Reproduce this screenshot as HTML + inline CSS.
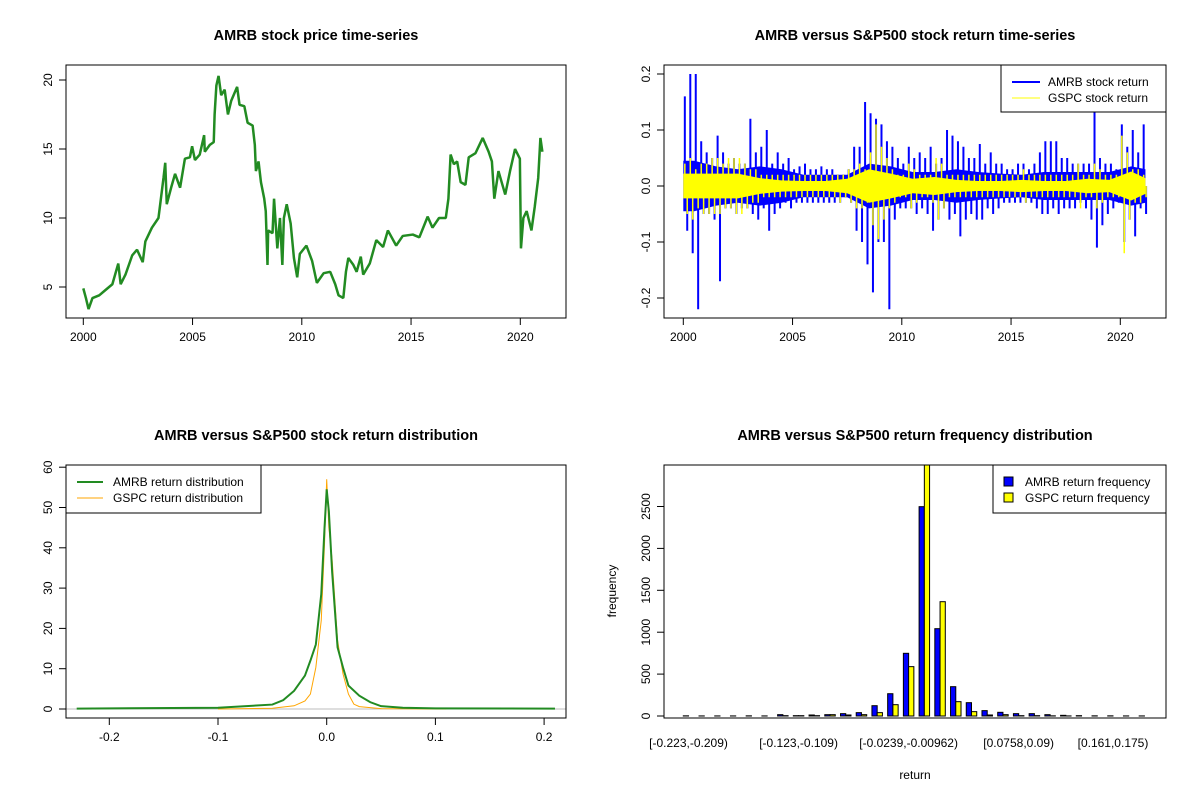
<!DOCTYPE html>
<html><head><meta charset="utf-8">
<style>
html,body{margin:0;padding:0;background:#fff;}
svg{display:block;font-family:"Liberation Sans",Arial,sans-serif;}
.t{font-weight:bold;font-size:14.5px;text-anchor:middle;}
.k{font-size:12px;text-anchor:middle;}
.ax{stroke:#000;stroke-width:1;fill:none;}
</style></head>
<body>
<svg id="chart" width="1200" height="800" viewBox="0 0 1200 800">
<defs>
<clipPath id="c1"><rect x="66" y="65" width="500" height="253"/></clipPath>
<clipPath id="c2"><rect x="664" y="65" width="502" height="253"/></clipPath>
<clipPath id="c3"><rect x="66" y="465" width="500" height="253"/></clipPath>
<clipPath id="c4"><rect x="664" y="465" width="502" height="253"/></clipPath>
</defs>
<rect width="1200" height="800" fill="#fff"/>
<text class="t" x="316" y="40">AMRB stock price time-series</text>
<text class="t" x="915" y="40">AMRB versus S&amp;P500 stock return time-series</text>
<text class="t" x="316" y="440">AMRB versus S&amp;P500 stock return distribution</text>
<text class="t" x="915" y="440">AMRB versus S&amp;P500 return frequency distribution</text>
<g id="g1"></g>
<g id="g2"></g>
<g id="g3"></g>
<g id="g4"></g>
<rect class="ax" x="66" y="65" width="500" height="253"/>
<rect class="ax" x="664" y="65" width="502" height="253"/>
<rect class="ax" x="66" y="465" width="500" height="253"/>
<rect class="ax" x="664" y="465" width="502" height="253"/>
<g>
<rect x="1001" y="65" width="165" height="47" fill="#fff" stroke="#000"/>
<line x1="1012" y1="82" x2="1040" y2="82" stroke="#0000ff" stroke-width="2"/>
<text x="1048" y="86" font-size="12">AMRB stock return</text>
<line x1="1012" y1="98" x2="1040" y2="98" stroke="#ffff00" stroke-width="1"/>
<text x="1048" y="102" font-size="12">GSPC stock return</text>
</g>
<g>
<rect x="66" y="465" width="195" height="48" fill="#fff" stroke="#000"/>
<line x1="77" y1="482" x2="103" y2="482" stroke="#228B22" stroke-width="2"/>
<text x="113" y="486" font-size="12">AMRB return distribution</text>
<line x1="77" y1="498" x2="103" y2="498" stroke="#FFA500" stroke-width="1"/>
<text x="113" y="502" font-size="12">GSPC return distribution</text>
</g>
<g>
<rect x="993" y="465" width="173" height="48" fill="#fff" stroke="#000"/>
<rect x="1004" y="477" width="9" height="9" fill="#0000ff" stroke="#000"/>
<text x="1025" y="486" font-size="12">AMRB return frequency</text>
<rect x="1004" y="493" width="9" height="9" fill="#ffff00" stroke="#000"/>
<text x="1025" y="502" font-size="12">GSPC return frequency</text>
</g>
<text class="k" x="915" y="779">return</text>
<text class="k" transform="translate(616,591) rotate(-90)">frequency</text>
</svg>
<script>
// ---- Price series ----
const priceYears = [0,.12,.24,.42,.73,1.03,1.33,1.60,1.71,1.93,2.24,2.46,2.72,2.84,3.14,3.44,3.52,3.67,3.75,3.82,4.02,4.20,4.43,4.65,4.88,4.98,5.11,5.33,5.53,5.56,5.79,5.97,6.01,6.09,6.19,6.31,6.47,6.62,6.77,7.04,7.15,7.37,7.52,7.75,7.85,7.90,8.02,8.13,8.28,8.35,8.43,8.46,8.66,8.73,8.88,9.00,9.11,9.18,9.31,9.49,9.64,9.79,9.91,10.21,10.47,10.69,11.00,11.30,11.53,11.68,11.90,12.02,12.13,12.36,12.51,12.70,12.81,13.11,13.41,13.72,13.94,14.32,14.62,15.08,15.38,15.76,15.98,16.28,16.59,16.71,16.81,16.96,17.11,17.27,17.49,17.64,17.95,18.28,18.55,18.70,18.81,19.00,19.31,19.53,19.76,19.98,20.03,20.14,20.29,20.51,20.66,20.82,20.92,21.01];
const priceValues = [4.9,4.2,3.4,4.2,4.4,4.8,5.2,6.7,5.2,5.9,7.3,7.7,6.8,8.3,9.3,10.0,11.0,12.9,14.0,11.0,12.2,13.2,12.2,14.3,14.4,15.2,14.2,14.6,16.0,14.8,15.3,15.5,17.5,19.6,20.3,18.9,19.3,17.5,18.5,19.5,18.2,18.1,16.9,16.7,15.3,13.4,14.1,12.6,11.4,10.5,6.6,9.1,8.9,11.4,7.8,10.0,6.6,10.0,11.0,9.6,7.1,5.7,7.4,8.0,6.9,5.3,6.0,6.1,5.2,4.4,4.2,6.1,7.1,6.6,6.1,7.2,5.9,6.7,8.4,7.9,9.1,8.0,8.7,8.8,8.6,10.1,9.3,10.0,10.0,11.4,14.6,13.9,14.1,12.6,12.4,14.4,14.7,15.8,14.8,14.1,11.4,13.4,11.7,13.4,15.0,14.3,7.8,10.0,10.5,9.1,10.8,12.9,15.8,14.8];
const priceYTicks = [5,10,15,20];
const yearTicks = [2000,2005,2010,2015,2020];
// ---- Returns (quarterly high/low extremes) ----
const amrbHi = [.16,.2,.2,.08, .06,.05,.09,.06, .04,.05,.04,.04, .12,.06,.07,.1, .04,.06,.04,.05, .03,.035,.04,.03, .03,.035,.03,.03, .02,.02,.03,.07, .07,.15,.13,.12, .11,.08,.07,.05, .04,.07,.05,.06, .05,.07,.04,.05, .1,.09,.08,.07, .05,.05,.075,.04, .06,.04,.04,.03, .03,.04,.04,.03, .04,.06,.08,.08, .08,.05,.05,.04, .04,.04,.04,.15, .05,.04,.04,.03, .11,.07,.1,.06, .11];
const amrbLo = [-.08,-.12,-.22,-.05, -.05,-.06,-.17,-.04, -.04,-.05,-.04,-.04, -.05,-.06,-.04,-.08, -.05,-.04,-.03,-.04, -.03,-.03,-.03,-.03, -.03,-.03,-.03,-.03, -.03,-.02,-.03,-.08, -.1,-.14,-.19,-.1, -.1,-.22,-.06,-.04, -.04,-.04,-.05,-.04, -.05,-.08,-.06,-.04, -.06,-.05,-.09,-.06, -.05,-.06,-.06,-.04, -.05,-.04,-.03,-.03, -.03,-.03,-.03,-.03, -.04,-.05,-.05,-.04, -.05,-.04,-.04,-.04, -.03,-.04,-.06,-.11, -.07,-.05,-.04,-.03, -.1,-.06,-.09,-.04, -.05];
const gspcHi = [.04,.05,.03,.04, .04,.05,.05,.04, .05,.05,.05,.04, .03,.03,.02,.02, .02,.02,.02,.02, .02,.02,.02,.02, .02,.02,.02,.02, .02,.02,.03,.03, .04,.03,.06,.11, .07,.05,.03,.02, .02,.04,.03,.02, .02,.02,.05,.04, .02,.02,.02,.02, .02,.02,.02,.02, .02,.02,.02,.02, .02,.02,.03,.02, .02,.02,.02,.02, .02,.02,.02,.02, .04,.02,.02,.04, .03,.02,.02,.02, .09,.06,.03,.03, .02];
const gspcLo = [-.05,-.06,-.04,-.05, -.05,-.05,-.05,-.04, -.04,-.05,-.05,-.04, -.03,-.03,-.02,-.02, -.02,-.02,-.02,-.02, -.02,-.02,-.02,-.02, -.02,-.02,-.02,-.02, -.03,-.02,-.03,-.04, -.04,-.03,-.07,-.095, -.06,-.04,-.03,-.02, -.02,-.04,-.03,-.02, -.02,-.03,-.06,-.04, -.02,-.02,-.02,-.02, -.02,-.02,-.02,-.02, -.02,-.02,-.02,-.02, -.02,-.02,-.03,-.02, -.02,-.02,-.02,-.02, -.02,-.02,-.02,-.02, -.04,-.02,-.02,-.04, -.03,-.02,-.02,-.02, -.12,-.06,-.03,-.03, -.02];
// typical (dense core) daily return magnitude per year 2000..2021
const amrbCore = [.045,.035,.03,.035,.03,.02,.02,.02,.04,.035,.025,.025,.03,.025,.022,.02,.025,.025,.025,.025,.035,.03];
const gspcCore = [.022,.022,.022,.014,.01,.009,.009,.013,.03,.022,.013,.016,.011,.009,.009,.011,.009,.009,.013,.011,.026,.014];
const returnYTicks = [-0.2,-0.1,0,0.1,0.2];
// ---- Density ----
const amrbDensX = [-0.23,-0.1,-0.05,-0.04,-0.03,-0.02,-0.015,-0.01,-0.005,-0.002,0,0.002,0.005,0.01,0.015,0.02,0.03,0.04,0.05,0.07,0.1,0.21];
const amrbDensY = [0.1,0.3,1.1,2.2,4.5,8.3,12,16,28.5,45,54.5,49,34,15.3,10.3,5.8,3.3,1.7,0.7,0.3,0.15,0.1];
const gspcDensX = [-0.1,-0.05,-0.04,-0.03,-0.02,-0.015,-0.01,-0.005,-0.002,0,0.002,0.005,0.01,0.015,0.02,0.025,0.03,0.05,0.11];
const gspcDensY = [0,0.2,0.5,0.8,2,3.7,10.3,22,41,57,45,37,17,8.7,3.7,1.2,0.6,0.1,0];
const densYTicks = [0,10,20,30,40,50,60];
const densXTicks = [-0.2,-0.1,0,0.1,0.2];
// ---- Histogram ----
const binLabels = ["[-0.223,-0.209)","","","","","","","[-0.123,-0.109)","","","","","","","[-0.0239,-0.00962)","","","","","","","[0.0758,0.09)","","","","","","[0.161,0.175)","",""];
const amrbFreq = [2,1,1,1,2,1,16,4,12,16,28,40,123,266,748,2498,1042,350,159,64,44,28,28,16,8,4,2,2,1,1];
const gspcFreq = [0,0,0,0,0,0,4,4,4,16,12,16,40,135,589,3050,1364,171,52,12,16,4,4,2,1,0,0,0,0,0];
const freqYTicks = [0,500,1000,1500,2000,2500];

const NS = "http://www.w3.org/2000/svg";
function mk(tag, parent){ const e=document.createElementNS(NS,tag); parent.appendChild(e); return e; }
function setA(e, o){ for(const k in o) e.setAttribute(k,o[k]); }

const px1 = t => 83.3 + t*21.85;
const py1 = v => 287 - (v-5)*13.8;
const px2 = t => 683.3 + t*21.85;
const py2 = r => 186 - r*560;
const px3 = x => 326.7 + x*1087;
const py3 = d => 709 - d*4.03;
const barStep = 15.72, barW = 5.24;
const px4 = i => 683.3 + i*barStep;
const py4 = v => 716 - v*0.0838;

function yAxis(g, ticks, py, xAxis, fmt, name){
  const ln = mk('line', g);
  setA(ln,{x1:xAxis,x2:xAxis,y1:py(ticks[0]),y2:py(ticks[ticks.length-1]),stroke:'#000'});
  
  
  ticks.forEach(v=>{
    const tk = mk('line', g);
    setA(tk,{x1:xAxis-7,x2:xAxis,y1:py(v),y2:py(v),stroke:'#000'});
    
    
    const tx = mk('text', g);
    setA(tx,{class:'k',transform:`translate(${xAxis-14},${py(v)}) rotate(-90)`});
    tx.textContent = fmt(v);
    
    
  });
}
function xAxis(g, ticks, px, yAx, fmt, name){
  const ln = mk('line', g);
  setA(ln,{x1:px(ticks[0]),x2:px(ticks[ticks.length-1]),y1:yAx,y2:yAx,stroke:'#000'});
  
  
  ticks.forEach(v=>{
    const tk = mk('line', g);
    setA(tk,{x1:px(v),x2:px(v),y1:yAx,y2:yAx+7,stroke:'#000'});
    
    
    const tx = mk('text', g);
    setA(tx,{class:'k',x:px(v),y:yAx+23});
    tx.textContent = fmt(v);
    
    
  });
}

// Panel 1
const g1 = document.getElementById('g1');
yAxis(g1, priceYTicks, py1, 66, v=>String(v), 'price');
xAxis(g1, yearTicks, y=>px1(y-2000), 318, v=>String(v), 'price');
const pl = mk('polyline', g1);
setA(pl,{points:priceYears.map((t,i)=>px1(t)+','+py1(priceValues[i])).join(' '),fill:'none',stroke:'#228B22','stroke-width':2.5,'stroke-linejoin':'bevel','clip-path':'url(#c1)'});



// Panel 2
const g2 = document.getElementById('g2');
yAxis(g2, returnYTicks, py2, 664, v=>v.toFixed(1).replace('-0.0','0.0'), 'return');
xAxis(g2, yearTicks, y=>px2(y-2000), 318, v=>String(v), 'return');
function band(core, lastT){
  const top=[], bot=[];
  top.push(px2(0)+','+py2(core[0])); bot.unshift(px2(0)+','+py2(-core[0]));
  core.forEach((c,i)=>{ const t=Math.min(i+0.5,lastT);
    top.push(px2(t)+','+py2(c)); bot.unshift(px2(t)+','+py2(-c)); });
  const cl=core[core.length-1];
  top.push(px2(lastT)+','+py2(cl)); bot.unshift(px2(lastT)+','+py2(-cl));
  return top.concat(bot).join(' ');
}
function spikes(hi, lo){
  let d=''; hi.forEach((h,q)=>{ const t=q*0.25;
    d+=`M${px2(t+0.07)},${py2(0)}V${py2(h)}M${px2(t+0.18)},${py2(0)}V${py2(lo[q])}`; });
  return d;
}
const bb = mk('polygon', g2);
setA(bb,{points:band(amrbCore,21.15),fill:'#0000ff','clip-path':'url(#c2)'});


const bl = mk('path', g2);
setA(bl,{d:spikes(amrbHi,amrbLo),fill:'none',stroke:'#0000ff','stroke-width':2,'clip-path':'url(#c2)'});


const yb = mk('polygon', g2);
setA(yb,{points:band(gspcCore,21.15),fill:'#ffff00','clip-path':'url(#c2)'});


const yl = mk('path', g2);
setA(yl,{d:spikes(gspcHi,gspcLo),fill:'none',stroke:'#ffff00','stroke-width':1.5,'clip-path':'url(#c2)'});



// Panel 3
const g3 = document.getElementById('g3');
yAxis(g3, densYTicks, py3, 66, v=>String(v), 'density');
xAxis(g3, densXTicks, px3, 718, v=>v===0?'0.0':v.toFixed(1), 'density');
const zl = mk('line', g3);
setA(zl,{x1:66,x2:566,y1:py3(0),y2:py3(0),stroke:'#bebebe'});


const ol = mk('polyline', g3);
setA(ol,{points:gspcDensX.map((x,i)=>px3(x)+','+py3(gspcDensY[i])).join(' '),fill:'none',stroke:'#FFA500','stroke-width':1,'clip-path':'url(#c3)'});


const gl = mk('polyline', g3);
setA(gl,{points:amrbDensX.map((x,i)=>px3(x)+','+py3(amrbDensY[i])).join(' '),fill:'none',stroke:'#228B22','stroke-width':2,'clip-path':'url(#c3)'});



// Panel 4
const g4 = document.getElementById('g4');
yAxis(g4, freqYTicks, py4, 664, v=>String(v), 'frequency');
const bars = mk('g', g4);
bars.setAttribute('clip-path','url(#c4)');


amrbFreq.forEach((v,i)=>{
  const r = mk('rect', bars);
  setA(r,{x:px4(i),y:py4(v),width:barW,height:Math.max(0,py4(0)-py4(v)),fill:'#0000ff',stroke:'#000'});
  
  
  const r2 = mk('rect', bars);
  const g = gspcFreq[i];
  setA(r2,{x:px4(i)+barW,y:py4(g),width:barW,height:Math.max(0,py4(0)-py4(g)),fill:'#ffff00',stroke:'#000'});
  
  
  if(binLabels[i]){
    const tx = mk('text', g4);
    setA(tx,{class:'k',x:px4(i)+barW,y:747});
    tx.textContent = binLabels[i];
    
    
  }
});
</script>
</body></html>
